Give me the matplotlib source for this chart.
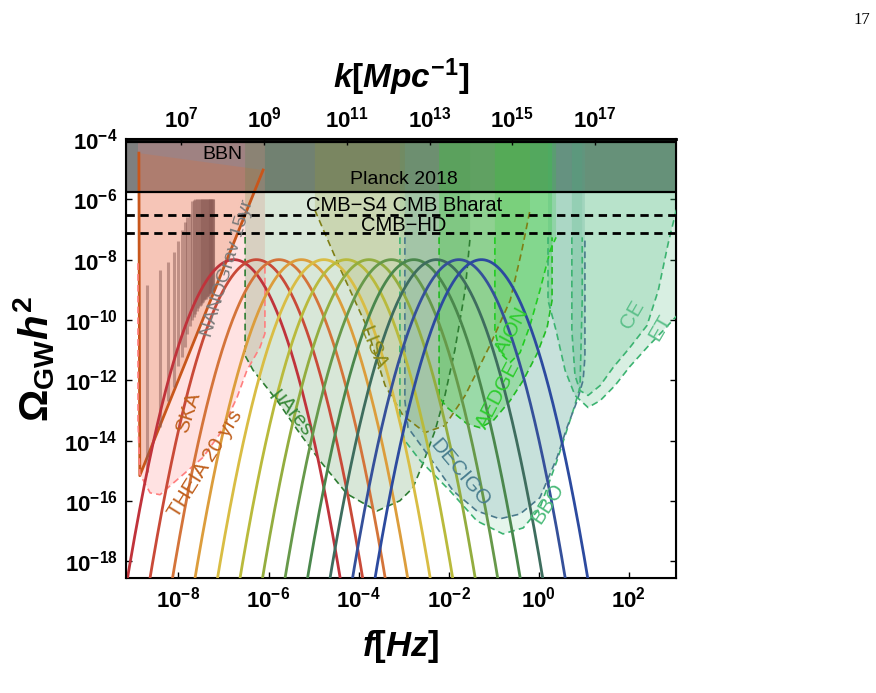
import numpy as np
import matplotlib
matplotlib.use('Agg')
import matplotlib.pyplot as plt
from matplotlib.ticker import FixedLocator, FuncFormatter, NullLocator

plt.rcParams['font.family'] = ['Liberation Sans', 'DejaVu Sans']
plt.rcParams['mathtext.fontset'] = 'custom'
plt.rcParams['mathtext.rm'] = 'Liberation Sans:bold'
plt.rcParams['mathtext.it'] = 'Liberation Sans:bold:italic'
plt.rcParams['mathtext.bf'] = 'Liberation Sans:bold'
plt.rcParams['mathtext.sf'] = 'Liberation Sans:bold'

# signal peaks (log10 f of each peak), common peak height and log-log curvature
peak_logf = [-6.77, -6.27, -5.77, -5.27, -4.77, -4.27, -3.77, -3.27, -2.77, -2.27, -1.77, -1.27]
peak_logomega = -8.0
peak_curv = 1.89
peak_colors = ['#c0333b', '#c94a38', '#d4743a', '#dc9d3c', '#d9bd44', '#b9ba3c',
               '#93ad3f', '#67994a', '#4a874c', '#3e6d5e', '#35509a', '#2c4a9f']

# constraints
planck = 1.8e-6
bbn_line = 10**-4.1
cmb_s4 = 3.0e-7
cmb_hd = 7.4e-8

# NANOGrav 15yr violins: frequency (nHz), log10 range
ng_freq = [1.98, 3.95, 5.93, 7.9, 9.88, 11.9, 13.8, 15.8, 17.8, 19.8, 21.7, 23.7, 25.7,
           27.7, 29.6, 31.6, 33.6, 35.6, 37.5, 39.5, 41.5, 43.5, 45.4, 47.4, 49.4, 51.4,
           53.3, 55.3, 57.3, 59.3]
ng_top = [-8.85, -8.35, -8.08, -7.74, -7.39, -7.02, -6.75, -6.6, -6.5, -6.05, -6.02, -6.0,
          -6.0, -6.0, -5.99, -5.99, -5.99, -5.99, -5.99, -5.99, -5.99, -5.99, -5.99, -5.99,
          -5.99, -5.99, -5.99, -5.99, -5.99, -5.99]
ng_bot = [-15.05, -13.56, -12.67, -12.23, -11.51, -11.23, -10.9, -10.45, -10.2, -10.0, -9.9,
          -9.8, -9.7, -9.6, -9.55, -9.5, -9.45, -9.4, -9.35, -9.3, -9.3, -9.25, -9.2, -9.2,
          -9.15, -9.1, -9.1, -9.05, -9.0, -9.0]

# sensitivity curves, log10 f and log10 Omega h^2
ska_lf = [-8.88, -8.86, -6.12]
ska_lo = [-4.47, -15.16, -5.03]

theia_lf = [-8.9, -8.9, -8.86, -8.63, -8.41, -8.19, -7.46, -7.08, -6.70, -6.48, -6.19, -6.08, -6.08]
theia_lo = [-8.12, -13.34, -15.1, -15.73, -15.79, -15.5, -14.56, -13.77, -12.57, -11.67, -10.91, -10.45, -8.12]

mu_lf = [-6.52, -6.52, -6.34, -5.81, -5.30, -4.86, -4.26, -3.59, -3.08, -2.79, -2.57, -2.30, -2.08, -1.86, -1.63, -1.52]
mu_lo = [-7.25, -11.18, -11.67, -12.67, -13.77, -14.66, -15.76, -16.33, -15.99, -15.56, -14.76, -13.67, -12.5, -11.0, -9.0, -7.25]

lisa_lf = [-4.97, -4.41, -3.83, -3.41, -3.01, -2.52, -2.08, -1.63, -1.08, -0.63, -0.37, -0.19]
lisa_lo = [-6.36, -8.29, -10.18, -12.17, -13.17, -13.73, -13.5, -12.5, -10.84, -9.35, -7.69, -6.36]

decigo_lf = [-2.97, -2.97, -2.90, -2.48, -1.90, -1.37, -0.86, -0.41, 0.03, 0.41, 0.63, 0.86, 0.99, 1.03, 1.03]
decigo_lo = [-7.26, -12.67, -13.57, -14.43, -15.66, -16.33, -16.59, -16.43, -15.89, -14.56, -13.57, -12.67, -12.0, -11.24, -7.26]

bbo_lf = [-3.08, -3.08, -2.97, -2.63, -1.97, -1.37, -0.79, -0.34, 0.03, 0.41, 0.77, 0.92, 0.97, 0.97]
bbo_lo = [-7.26, -13.34, -14.0, -14.66, -15.66, -16.66, -17.09, -16.89, -16.23, -14.66, -13.0, -12.24, -9.35, -7.26]

aedge_lf = [-2.21, -2.21, -2.03, -1.59, -1.30, -1.01, -0.63, -0.34, -0.03, 0.19, 0.30, 0.30]
aedge_lo = [-7.26, -12.57, -12.9, -13.44, -13.57, -13.34, -12.67, -12.0, -11.11, -10.25, -9.35, -7.26]

aion_lf = [-0.97, -0.97, -0.86, -0.63, -0.41, -0.19, 0.03, 0.26, 0.39]
aion_lo = [-7.26, -10.35, -11.08, -11.41, -11.08, -10.18, -9.02, -7.69, -7.26]

et_lf = [0.21, 0.21, 0.39, 0.59, 0.81, 1.10, 1.37, 1.70, 2.03, 2.41, 2.77, 3.14]
et_lo = [-7.26, -9.35, -10.35, -11.67, -12.5, -12.9, -12.67, -12.17, -11.54, -10.91, -10.35, -9.75]

ce_lf = [0.74, 0.74, 0.81, 0.92, 1.10, 1.37, 1.66, 2.03, 2.41, 2.66, 2.88, 3.06, 3.14]
ce_lo = [-7.26, -10.35, -11.84, -12.34, -12.5, -12.17, -11.57, -10.91, -10.18, -9.02, -7.46, -6.36, -5.7]

x_ticks = [1e-8, 1e-6, 1e-4, 1e-2, 1e0, 1e2]
y_ticks = [1e-4, 1e-6, 1e-8, 1e-10, 1e-12, 1e-14, 1e-16, 1e-18]
k_ticks = [1e7, 1e9, 1e11, 1e13, 1e15, 1e17]

XMIN, XMAX = 10**-9.167, 10**3.056
YMIN, YMAX = 10**-18.55, 1e-4
KMIN, KMAX = 10**5.663, 10**18.959

fig = plt.figure(figsize=(8.76, 6.93), dpi=100)
ax = fig.add_axes([0.1438, 0.166, 0.628, 0.6335])
ax.set_xscale('log')
ax.set_yscale('log')


def detector(lf, lo, face, edge, alpha):
    f = 10.0**np.array(lf)
    o = 10.0**np.array(lo)
    ax.fill(np.r_[f[0], f, f[-1]], np.r_[YMAX, o, YMAX], color=face, alpha=alpha, lw=0, zorder=2)
    ax.plot(f, o, color=edge, lw=1.2, dashes=(4, 2.5), zorder=3)


# Planck / BBN band
ax.axhspan(planck, YMAX, color='k', alpha=0.5, lw=0, zorder=1)

# SKA wedge
fs = 10.0**np.array(ska_lf)
os_ = 10.0**np.array(ska_lo)
ax.fill(fs, os_, color='#d2691e', alpha=0.25, lw=0, zorder=2)
ax.plot(fs, os_, color='#c8561b', lw=2, zorder=3)

detector(theia_lf, theia_lo, '#ff8c8c', '#ff7f7f', 0.25)
detector(mu_lf, mu_lo, '#3d8b3d', '#2e7d32', 0.2)
detector(lisa_lf, lisa_lo, '#9c9c2c', '#7f7f15', 0.22)
detector(bbo_lf, bbo_lo, '#3cb371', '#3cb371', 0.13)
detector(decigo_lf, decigo_lo, '#5f9ea0', '#4a7a8c', 0.22)
detector(aedge_lf, aedge_lo, '#32cd32', '#22bb22', 0.3)
detector(aion_lf, aion_lo, '#32cd32', '#22cc22', 0.22)
detector(et_lf, et_lo, '#3cb371', '#3cb371', 0.2)
detector(ce_lf, ce_lo, '#3cb371', '#3cb371', 0.2)

ax.axhline(planck, color='k', lw=1.6, zorder=5)
ax.axhline(bbn_line, color='k', lw=1.6, zorder=5)
ax.axhline(cmb_s4, color='k', lw=2, dashes=(3, 2), zorder=5)
ax.axhline(cmb_hd, color='k', lw=2, dashes=(3, 2), zorder=5)

# NANOGrav violins
ax.vlines(np.array(ng_freq) * 1e-9, 10.0**np.array(ng_bot), 10.0**np.array(ng_top),
          color='#8a5a54', alpha=0.5, lw=2.2, zorder=3)

# signals
f = np.logspace(-9.3, 3.2, 800)
for mu, c in zip(peak_logf, peak_colors):
    ax.plot(f, 10**(peak_logomega - peak_curv * (np.log10(f) - mu)**2), color=c, lw=2, zorder=4)

# labels
fs_lab = 15
ax.text(10**-7.03, 10**-4.5, 'BBN', fontsize=14, ha='center', va='center', zorder=6)
ax.text(10**-2.99, 10**-5.36, 'Planck 2018', fontsize=14, ha='center', va='center', zorder=6)
ax.text(10**-2.99, 10**-6.22, 'CMB\u2212S4 CMB Bharat', fontsize=14.5, ha='center', va='center', zorder=6)
ax.text(10**-2.99, 10**-6.86, 'CMB\u2212HD', fontsize=14.5, ha='center', va='center', zorder=6)
ax.text(10**-6.9, 10**-8.3, 'NANOGrav 15yr', color='#7a7a7a', fontsize=14, rotation=73,
        ha='center', va='center', zorder=6)
ax.text(10**-7.79, 10**-13.07, 'SKA', color='#c0601e', fontsize=fs_lab, rotation=72,
        ha='center', va='center', zorder=6)
ax.text(10**-7.41, 10**-14.76, 'THEIA 20 yrs', color='#c0601e', fontsize=fs_lab, rotation=58,
        ha='center', va='center', zorder=6)
ax.text(10**-5.48, 10**-13.07, '\u03bcAres', color='#3a8a3a', fontsize=fs_lab, rotation=-52,
        ha='center', va='center', zorder=6)
ax.text(10**-3.68, 10**-10.91, 'LISA', color='#8b8b1a', fontsize=fs_lab, rotation=-68,
        ha='center', va='center', zorder=6)
ax.text(10**-1.74, 10**-15.06, 'DECIGO', color='#4a7f8f', fontsize=fs_lab, rotation=-50,
        ha='center', va='center', zorder=6)
ax.text(10**0.21, 10**-16.09, 'BBO', color='#4cbb7a', fontsize=fs_lab, rotation=57,
        ha='center', va='center', zorder=6)
ax.text(10**-0.90, 10**-12.5, 'AEDGE', color='#2ecc2e', fontsize=fs_lab, rotation=62,
        ha='center', va='center', zorder=6)
ax.text(10**-0.59, 10**-10.35, 'AION', color='#2ecc2e', fontsize=fs_lab, rotation=62,
        ha='center', va='center', zorder=6)
ax.text(10**2.08, 10**-9.81, 'CE', color='#5cc08a', fontsize=fs_lab, rotation=60,
        ha='center', va='center', zorder=6)
ax.text(10**2.70, 10**-10.25, 'ET', color='#5cc08a', fontsize=fs_lab, rotation=60,
        ha='center', va='center', zorder=6)

# axes
pow_fmt = FuncFormatter(lambda v, p: r'$10^{%d}$' % round(np.log10(v)))
ax.set_xlim(XMIN, XMAX)
ax.set_ylim(YMIN, YMAX)
ax.xaxis.set_major_locator(FixedLocator(x_ticks))
ax.xaxis.set_minor_locator(NullLocator())
ax.yaxis.set_major_locator(FixedLocator(y_ticks))
ax.yaxis.set_minor_locator(NullLocator())
ax.xaxis.set_major_formatter(pow_fmt)
ax.yaxis.set_major_formatter(pow_fmt)
ax.tick_params(direction='in', length=4, width=1, labelsize=16, right=True, pad=6)
for s in ax.spines.values():
    s.set_linewidth(1.5)

ax2 = ax.twiny()
ax2.set_xscale('log')
ax2.set_xlim(KMIN, KMAX)
ax2.xaxis.set_major_locator(FixedLocator(k_ticks))
ax2.xaxis.set_minor_locator(NullLocator())
ax2.xaxis.set_major_formatter(pow_fmt)
ax2.tick_params(direction='in', length=4, width=1, labelsize=16, pad=5)
ax2.spines['top'].set_linewidth(2)

ax.set_xlabel(r'$f[Hz]$', fontsize=25)
ax.xaxis.set_label_coords(0.5, -0.115)
ax2.set_xlabel(r'$k[Mpc^{-1}]$', fontsize=24)
ax2.xaxis.set_label_coords(0.5, 1.115)
ax.set_ylabel(r'$\Omega_{\mathrm{GW}}h^2$', fontsize=29)
ax.yaxis.set_label_coords(-0.125, 0.5)

fig.text(0.993, 0.983, '17', ha='right', va='top', fontsize=12, family='Liberation Serif')

fig.savefig('out.png', dpi=100)
